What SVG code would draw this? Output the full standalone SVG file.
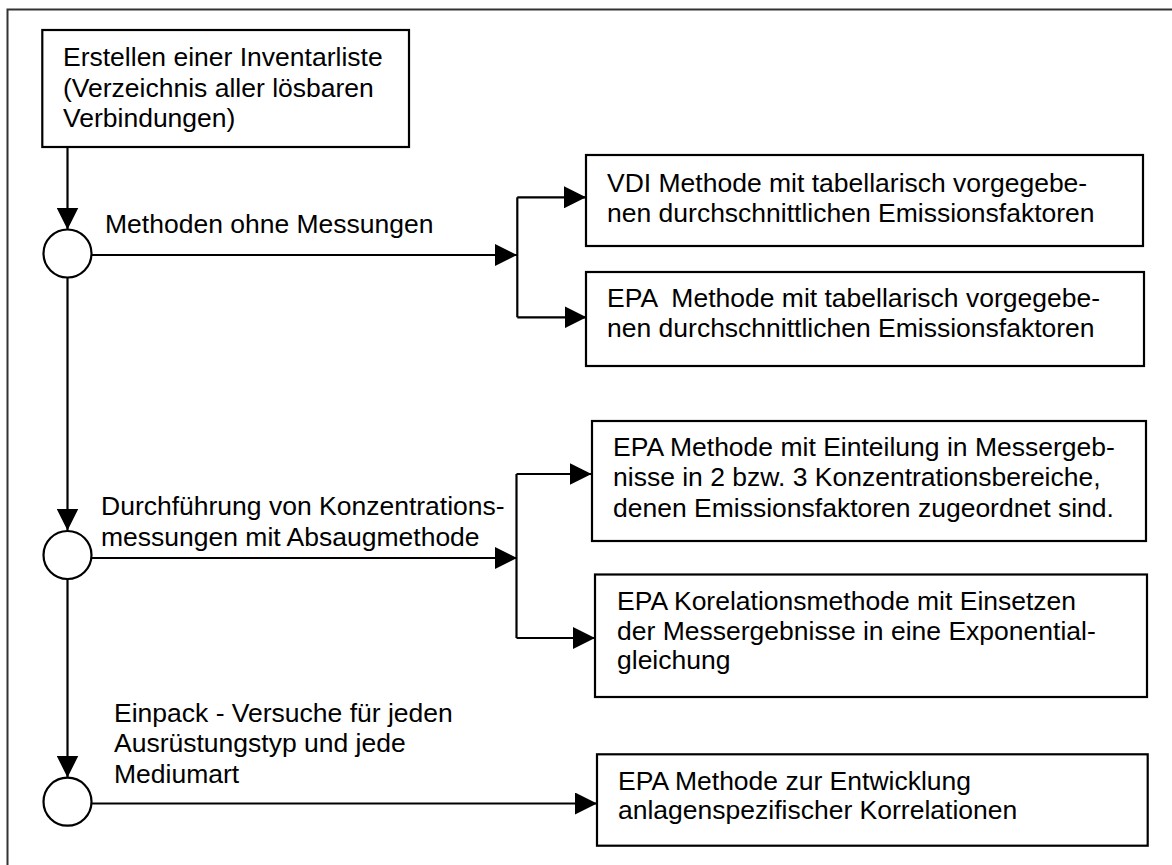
<svg xmlns="http://www.w3.org/2000/svg" width="1172" height="865" viewBox="0 0 1172 865">
<style>
.box{fill:#fff;stroke:#000;stroke-width:2.2}
.circ{fill:#fff;stroke:#000;stroke-width:2.2}
.con{fill:none;stroke:#000;stroke-width:2.2}
.t{font-family:"Liberation Sans",Arial,sans-serif;font-size:26.5px;fill:#000;white-space:pre}
</style>
<defs>
<marker id="ah" markerUnits="userSpaceOnUse" markerWidth="22" markerHeight="22" refX="22" refY="11" orient="auto">
<path d="M0,0 L22,11 L0,22 z" fill="#000"/>
</marker>
</defs>
<rect width="1172" height="865" fill="#fff"/>
<path d="M1172,9.5 H7.5 V865" fill="none" stroke="#333" stroke-width="2"/>

<g id="connectors">
<line class="con" x1="67.5" y1="147" x2="67.5" y2="229.5" marker-end="url(#ah)"/>
<line class="con" x1="91.5" y1="255" x2="517" y2="255" marker-end="url(#ah)"/>
<path class="con" d="M517.3,197.3 V317.3"/>
<line class="con" x1="517.3" y1="197.3" x2="586" y2="197.3" marker-end="url(#ah)"/>
<line class="con" x1="517.3" y1="317.3" x2="586.5" y2="317.3" marker-end="url(#ah)"/>
<line class="con" x1="67.5" y1="277.3" x2="67.5" y2="530.5" marker-end="url(#ah)"/>
<line class="con" x1="91.5" y1="558" x2="517" y2="558" marker-end="url(#ah)"/>
<path class="con" d="M516.5,474 V638"/>
<line class="con" x1="516.5" y1="474" x2="591.5" y2="474" marker-end="url(#ah)"/>
<line class="con" x1="516.5" y1="638" x2="595" y2="638" marker-end="url(#ah)"/>
<line class="con" x1="67.5" y1="579" x2="67.5" y2="777.5" marker-end="url(#ah)"/>
<line class="con" x1="91.5" y1="803.5" x2="597" y2="803.5" marker-end="url(#ah)"/>
</g>

<g id="start">
<rect class="box" x="42.3" y="30" width="366.7" height="117"/>
<text class="t" x="63" y="66">Erstellen einer Inventarliste<tspan x="63" y="96.5">(Verzeichnis aller lösbaren</tspan><tspan x="63" y="127">Verbindungen)</tspan></text>
</g>

<g id="node1">
<circle class="circ" cx="67.5" cy="253.5" r="24"/>
<text class="t" x="105" y="233">Methoden ohne Messungen</text>
</g>

<g id="node2">
<circle class="circ" cx="67.5" cy="555" r="24"/>
<text class="t" x="101" y="515">Durchführung von Konzentrations-<tspan x="101" y="545.5">messungen mit Absaugmethode</tspan></text>
</g>

<g id="node3">
<circle class="circ" cx="67.5" cy="801.7" r="24"/>
<text class="t" x="114" y="721.7">Einpack - Versuche für jeden<tspan x="114" y="752">Ausrüstungstyp und jede</tspan><tspan x="114" y="782.5">Mediumart</tspan></text>
</g>

<g id="vdi">
<rect class="box" x="586" y="155" width="557" height="91"/>
<text class="t" x="607" y="191.7">VDI Methode mit tabellarisch vorgegebe-<tspan x="607" y="222">nen durchschnittlichen Emissionsfaktoren</tspan></text>
</g>

<g id="epa1">
<rect class="box" x="586" y="272" width="558" height="94"/>
<text class="t" x="607" y="306.7">EPA  Methode mit tabellarisch vorgegebe-<tspan x="607" y="337">nen durchschnittlichen Emissionsfaktoren</tspan></text>
</g>

<g id="epa2">
<rect class="box" x="592" y="421" width="554" height="120"/>
<text class="t" x="613" y="455.5">EPA Methode mit Einteilung in Messergeb-<tspan x="613" y="486">nisse in 2 bzw. 3 Konzentrationsbereiche,</tspan><tspan x="613" y="516.5">denen Emissionsfaktoren zugeordnet sind.</tspan></text>
</g>

<g id="epa3">
<rect class="box" x="595" y="574.5" width="552" height="122.5"/>
<text class="t" x="617" y="610">EPA Korelationsmethode mit Einsetzen<tspan x="617" y="640">der Messergebnisse in eine Exponential-</tspan><tspan x="617" y="669">gleichung</tspan></text>
</g>

<g id="epa4">
<rect class="box" x="597" y="754.3" width="550.7" height="91.4"/>
<text class="t" x="618" y="789.5">EPA Methode zur Entwicklung<tspan x="618" y="819">anlagenspezifischer Korrelationen</tspan></text>
</g>
</svg>
